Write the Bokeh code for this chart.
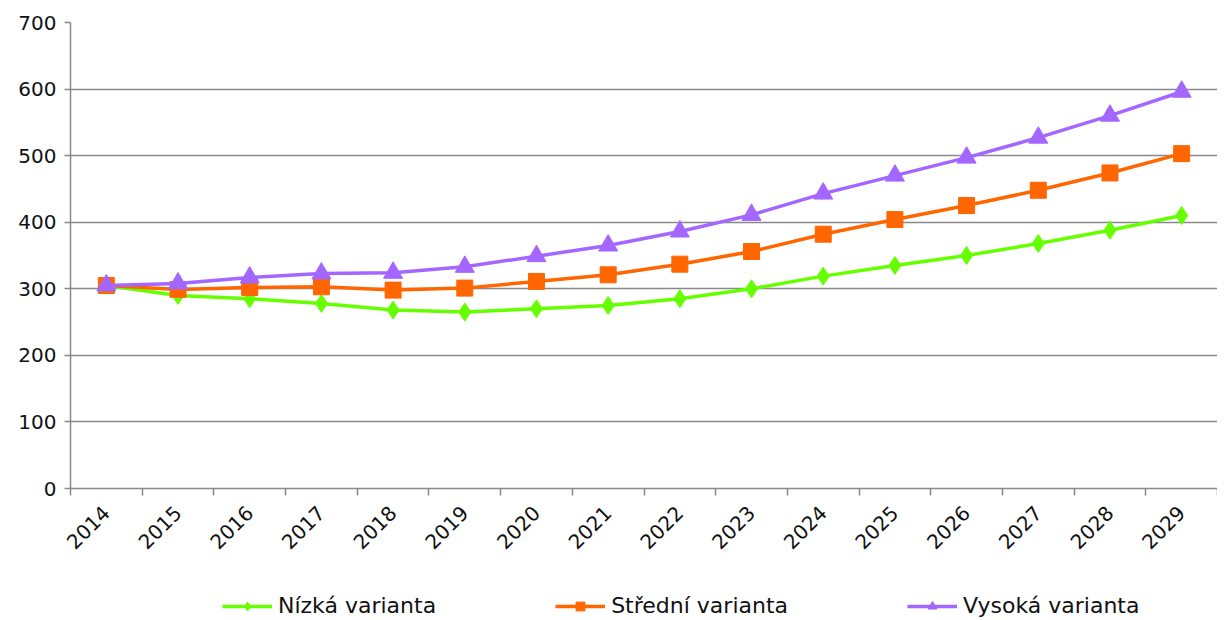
from bokeh.plotting import figure
from bokeh.models import Legend, LegendItem, FixedTicker, Range1d
from bokeh.layouts import column
from bokeh.embed import file_html
from bokeh.resources import INLINE
import math

years = [2014, 2015, 2016, 2017, 2018, 2019, 2020, 2021, 2022, 2023, 2024, 2025, 2026, 2027, 2028, 2029]
nizka = [305, 290, 285, 278, 268, 265, 270, 275, 285, 300, 319, 335, 350, 368, 388, 410]
stredni = [305, 299, 302, 303, 298, 301, 311, 321, 337, 356, 382, 404, 425, 448, 474, 503]
vysoka = [305, 308, 317, 323, 324, 333, 349, 365, 386, 411, 443, 470, 497, 527, 560, 596]
series_names = ["Nízká varianta", "Střední varianta", "Vysoká varianta"]
y_ticks = [0, 100, 200, 300, 400, 500, 600, 700]

FONT = "DejaVu Sans"
GRID = "#898989"

p = figure(output_backend="svg", toolbar_location=None,
           x_range=Range1d(years[0] - 0.5, years[-1] + 0.5), y_range=Range1d(0, 700),
           min_border_left=70, min_border_top=22, min_border_right=0, min_border_bottom=80)
p.frame_width = 1147
p.frame_height = 466
p.outline_line_color = None
p.background_fill_color = "white"
p.border_fill_color = "white"

# grids
p.xgrid.visible = False
p.ygrid.ticker = FixedTicker(ticks=y_ticks)
p.ygrid.grid_line_color = GRID
p.ygrid.grid_line_width = 1.5

# y axis
p.yaxis.ticker = FixedTicker(ticks=y_ticks)
p.yaxis.axis_line_color = GRID
p.yaxis.axis_line_width = 1.5
p.yaxis.major_tick_line_color = GRID
p.yaxis.major_tick_line_width = 1.5
p.yaxis.major_tick_in = 0
p.yaxis.major_tick_out = 6
p.yaxis.minor_tick_line_color = None
p.yaxis.major_label_text_font = FONT
p.yaxis.major_label_text_font_size = "20px"
p.yaxis.major_label_text_color = "#111111"
p.yaxis.major_label_standoff = 8

# x axis: labels at centres, tick marks at boundaries (minor ticks)
bounds = [y - 0.5 for y in years] + [years[-1] + 0.5]
p.xaxis.ticker = FixedTicker(ticks=years, minor_ticks=bounds)
p.xaxis.major_label_overrides = {y: str(y) for y in years}
p.xaxis.axis_line_color = GRID
p.xaxis.axis_line_width = 1.5
p.xaxis.major_tick_line_color = None
p.xaxis.minor_tick_line_color = GRID
p.xaxis.minor_tick_line_width = 1.5
p.xaxis.minor_tick_in = 0
p.xaxis.minor_tick_out = 7
p.xaxis.major_label_orientation = math.pi / 4
p.xaxis.major_label_text_font = FONT
p.xaxis.major_label_text_font_size = "20px"
p.xaxis.major_label_text_color = "#111111"
p.xaxis.major_label_standoff = 14

colors = ["#66ff00", "#ff6600", "#a366ff"]
markers = ["diamond", "square", "triangle"]
sizes = [18, 16, 19]
data = [nizka, stredni, vysoka]

for name, vals, c, m, s in zip(series_names, data, colors, markers, sizes):
    p.line(years, vals, line_color=c, line_width=3.5)
    p.scatter(years, vals, marker=m, size=s, fill_color=c, line_color=c)

# legend strip below the chart
lg = figure(output_backend="svg", toolbar_location=None,
            x_range=Range1d(0, 1), y_range=Range1d(0, 1),
            x_axis_location=None, y_axis_location=None,
            min_border_left=0, min_border_right=0, min_border_top=0, min_border_bottom=0)
lg.frame_width = 1217
lg.frame_height = 52
lg.outline_line_color = None
lg.xgrid.visible = False
lg.ygrid.visible = False

items = []
for name, c, m, s in zip(series_names, colors, markers, sizes):
    # proxy renderers placed outside the visible range, used only for the legend swatches
    l2 = lg.line([-5, -4], [-5, -4], line_color=c, line_width=3.5)
    s2 = lg.scatter([-5], [-5], marker=m, size=s - 2, fill_color=c, line_color=c)
    items.append(LegendItem(label=name, renderers=[l2, s2]))

legend = Legend(items=items, orientation="horizontal", location=(222, 2),
                label_text_font=FONT, label_text_font_size="22px", label_text_color="#111111",
                glyph_width=50, glyph_height=22, spacing=119, label_standoff=6,
                border_line_color=None, background_fill_alpha=0, padding=0, margin=0)
lg.add_layout(legend, "center")

layout = column(p, lg, spacing=0)
open("out.html", "w").write(file_html(layout, INLINE))
